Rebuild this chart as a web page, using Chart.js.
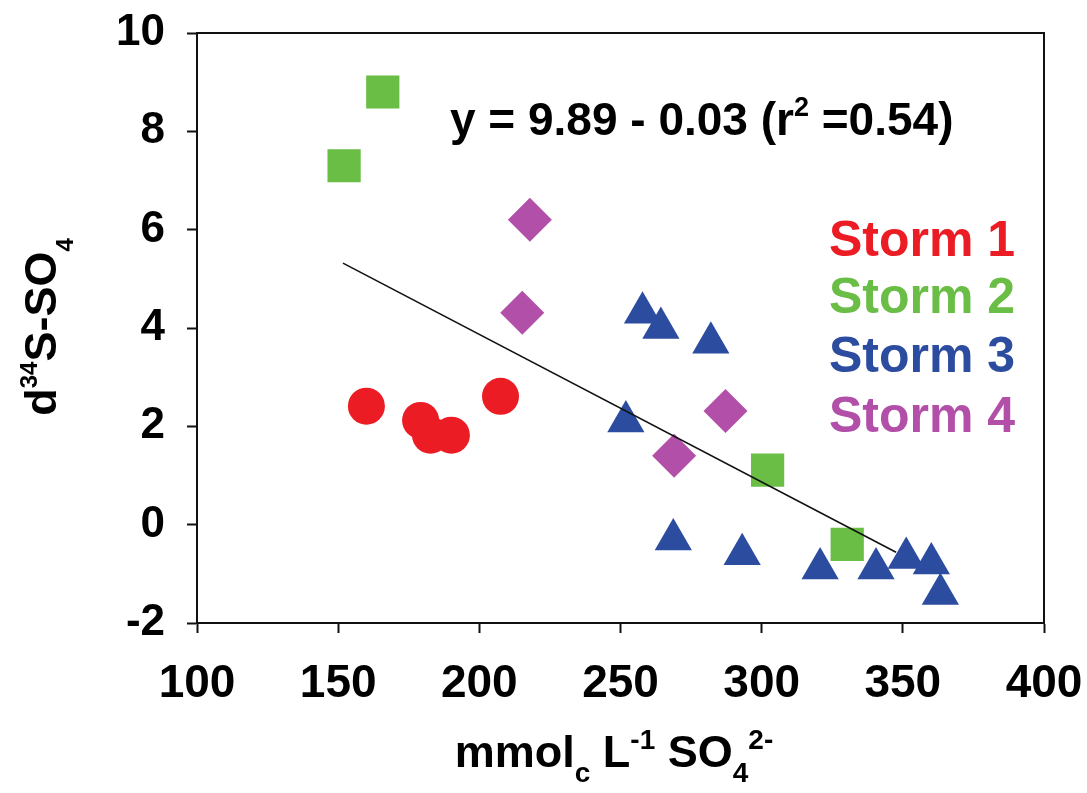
<!DOCTYPE html>
<html>
<head>
<meta charset="utf-8">
<title>d34S-SO4 vs SO4</title>
<script src="https://cdn.jsdelivr.net/npm/chart.js@4"></script>
<style>
    html, body { margin: 0; padding: 0; background: #fff; }
    #wrap { width: 1087px; height: 793px; position: relative; }
</style>
</head>
<body>
<div id="wrap"><canvas id="sulfate-chart"></canvas></div>
<script>
(function() {
    'use strict';

    // Measured values per storm event
    const storm1X = [160.0, 179.2, 182.7, 190.1, 207.5];
    const storm1Y = [2.41, 2.12, 1.82, 1.82, 2.61];
    const storm2X = [165.8, 152.1, 302.1, 330.3];
    const storm2Y = [8.80, 7.30, 1.11, -0.40];
    const storm3X = [257.8, 264.3, 282.0, 251.9, 268.7, 293.1, 320.7, 340.5, 351.2, 360.1, 363.3];
    const storm3Y = [4.31, 4.00, 3.70, 2.10, -0.30, -0.60, -0.89, -0.89, -0.68, -0.79, -1.41];
    const storm4X = [217.9, 215.2, 287.2, 269.0];
    const storm4Y = [6.20, 4.31, 2.31, 1.40];

    // Regression line end points
    const fitX = [151.7, 347.6];
    const fitY = [5.32, -0.56];

    const stormNames = ['Storm 1', 'Storm 2', 'Storm 3', 'Storm 4'];
    const stormColors = ['#ec1c24', '#6abd45', '#2c4ca0', '#b24fa8'];

    const xTicks = [100, 150, 200, 250, 300, 350, 400];
    const yTicks = [-2, 0, 2, 4, 6, 8, 10];

    const FONT = '"Liberation Sans", Arial, Helvetica, sans-serif';

    function toPoints(xs, ys) {
        return xs.map((x, i) => ({ x, y: ys[i] }));
    }

    function stormDataset(idx, xs, ys, style, radius, order) {
        return {
            label: stormNames[idx],
            data: toPoints(xs, ys),
            pointStyle: style,
            pointRadius: radius,
            pointHoverRadius: radius,
            pointBackgroundColor: stormColors[idx],
            pointBorderColor: stormColors[idx],
            pointBorderWidth: 0,
            showLine: false,
            order,
        };
    }

    // Draws a run of text pieces with sub/superscripts, left to right
    function drawRich(ctx, parts, x, y, align) {
        let width = 0;
        parts.forEach(p => {
            ctx.font = `bold ${p.size}px ${FONT}`;
            width += ctx.measureText(p.text).width;
        });
        let cx = align === 'center' ? x - width / 2 : x;
        ctx.textAlign = 'left';
        ctx.textBaseline = 'alphabetic';
        parts.forEach(p => {
            ctx.font = `bold ${p.size}px ${FONT}`;
            ctx.fillText(p.text, cx, y + (p.dy || 0));
            cx += ctx.measureText(p.text).width;
        });
    }

    const annotations = {
        id: 'annotations',
        afterDraw(chart) {
            const ctx = chart.ctx;
            const area = chart.chartArea;
            ctx.save();

            // frame: top and right edges
            ctx.strokeStyle = '#111';
            ctx.lineWidth = 2;
            ctx.beginPath();
            ctx.moveTo(area.left, area.top);
            ctx.lineTo(area.right, area.top);
            ctx.lineTo(area.right, area.bottom);
            ctx.stroke();

            ctx.fillStyle = '#000';

            // regression equation
            drawRich(ctx, [
                { text: 'y = 9.89 - 0.03 (r', size: 46 },
                { text: '2', size: 27, dy: -19 },
                { text: ' =0.54)', size: 46 },
            ], 450, 135, 'left');

            // storm labels
            const baselines = [256, 313, 372, 432];
            ctx.font = `bold 50px ${FONT}`;
            ctx.textAlign = 'left';
            ctx.textBaseline = 'alphabetic';
            stormNames.forEach((name, i) => {
                ctx.fillStyle = stormColors[i];
                ctx.fillText(name, 829, baselines[i]);
            });

            // x axis title
            ctx.fillStyle = '#000';
            drawRich(ctx, [
                { text: 'mmol', size: 45 },
                { text: 'c', size: 28, dy: 15 },
                { text: ' L', size: 45 },
                { text: '-1', size: 28, dy: -18 },
                { text: ' SO', size: 45 },
                { text: '4', size: 28, dy: 15 },
                { text: '2-', size: 28, dy: -18 },
            ], 614, 767, 'center');

            // y axis title, rotated
            ctx.translate(56, 327);
            ctx.rotate(-Math.PI / 2);
            drawRich(ctx, [
                { text: 'd', size: 45 },
                { text: '34', size: 24, dy: -19 },
                { text: 'S-SO', size: 45 },
                { text: '4', size: 24, dy: 17 },
            ], 0, 0, 'center');

            ctx.restore();
        },
    };

    function initChart() {
        const canvas = document.getElementById('sulfate-chart');
        if (!canvas) {
            return;
        }

        const datasets = [
            {
                label: 'fit',
                data: toPoints(fitX, fitY),
                showLine: true,
                borderColor: '#111',
                borderWidth: 1.6,
                pointRadius: 0,
                pointHoverRadius: 0,
                fill: false,
                order: 0,
            },
            stormDataset(2, storm3X, storm3Y, 'triangle', 21.5, 1),
            stormDataset(3, storm4X, storm4Y, 'rectRot', 22, 2),
            stormDataset(0, storm1X, storm1Y, 'circle', 18.5, 3),
            stormDataset(1, storm2X, storm2Y, 'rect', 23.5, 4),
        ];

        new Chart(canvas, {
            type: 'scatter',
            data: { datasets },
            options: {
                responsive: true,
                maintainAspectRatio: false,
                animation: false,
                layout: { padding: { top: 33, right: 43, left: 0, bottom: 0 } },
                plugins: {
                    legend: { display: false },
                    tooltip: { enabled: false },
                },
                scales: {
                    x: {
                        type: 'linear',
                        min: 100,
                        max: 400,
                        afterBuildTicks: scale => {
                            scale.ticks = xTicks.map(v => ({ value: v }));
                        },
                        afterFit: scale => {
                            scale.height = 170;
                            scale.paddingLeft = 0;
                            scale.paddingRight = 0;
                        },
                        grid: {
                            drawOnChartArea: false,
                            drawTicks: true,
                            tickLength: 10,
                            tickWidth: 2,
                            tickColor: '#111',
                        },
                        border: { display: true, color: '#111', width: 2 },
                        ticks: {
                            color: '#000',
                            padding: 24,
                            maxRotation: 0,
                            font: { family: FONT, size: 46, weight: 'bold' },
                        },
                    },
                    y: {
                        type: 'linear',
                        min: -2,
                        max: 10,
                        afterBuildTicks: scale => {
                            scale.ticks = yTicks.map(v => ({ value: v }));
                        },
                        afterFit: scale => {
                            scale.width = 197;
                            scale.paddingTop = 0;
                            scale.paddingBottom = 0;
                        },
                        grid: {
                            drawOnChartArea: false,
                            drawTicks: true,
                            tickLength: 10,
                            tickWidth: 2,
                            tickColor: '#111',
                        },
                        border: { display: true, color: '#111', width: 2 },
                        ticks: {
                            color: '#000',
                            padding: 22,
                            font: { family: FONT, size: 44, weight: 'bold' },
                        },
                    },
                },
            },
            plugins: [annotations],
        });
    }

    if (document.readyState === 'loading') {
        document.addEventListener('DOMContentLoaded', initChart);
    } else {
        initChart();
    }
})();
</script>
</body>
</html>
